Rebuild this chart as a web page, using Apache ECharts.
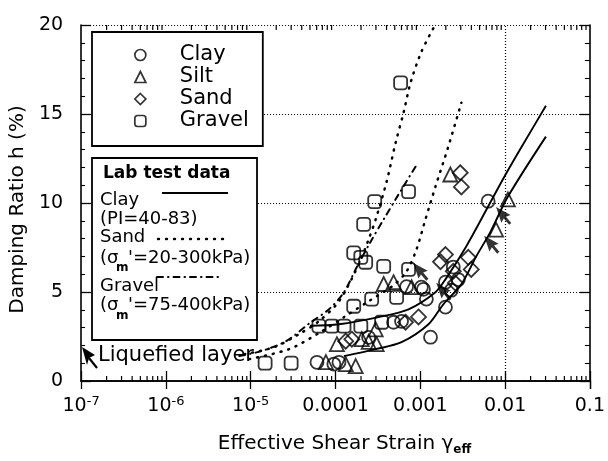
<!DOCTYPE html>
<html><head><meta charset="utf-8">
<script src="https://cdn.jsdelivr.net/npm/echarts@6/dist/echarts.min.js"></script>
<style>html,body{margin:0;padding:0;background:#fff}#c{width:608px;height:461px}</style>
</head><body><div id="c"></div>
<script>
const FONT = '"DejaVu Sans", "Liberation Sans", sans-serif';
// ---- tick labels ----
const xTickLabels = ['10^-7','10^-6','10^-5','0.0001','0.001','0.01','0.1'];
const xGridLines = [1e-4, 1e-3, 1e-2];
const yTicks = [0, 5, 10, 15, 20];

// ---- field data (strain, damping %) ----
const clayPts = [[6.31e-3,10.1],[2.45e-3,6.4],[2.81e-3,5.7],[1.98e-3,5.55],[2.32e-3,5.1],[1.18e-3,4.6],[1.09e-3,5.15],[1.98e-3,4.15],[1.32e-3,2.46],[4.84e-4,3.3],[6.01e-4,3.35],[2.46e-4,2.45],[9.57e-5,0.95],[6.05e-5,1.05],[1.10e-4,1.05],[6.89e-4,5.3],[1.03e-3,5.27]];
const siltPts = [[2.26e-3,11.6],[1.08e-2,10.2],[7.83e-3,8.5],[3.70e-4,5.45],[4.84e-4,5.55],[7.89e-4,5.27],[1.04e-4,2.07],[2.04e-4,2.35],[2.46e-4,2.2],[3.06e-4,2.07],[7.71e-5,1.06],[1.32e-4,0.95],[1.73e-4,0.84],[2.98e-4,2.9]];
const sandPts = [[2.96e-3,11.7],[3.05e-3,10.9],[1.98e-3,7.1],[1.73e-3,6.7],[3.68e-3,6.95],[3.99e-3,6.27],[2.45e-3,6.16],[2.59e-3,5.5],[9.53e-4,3.6],[6.70e-4,3.3],[1.32e-4,2.24],[1.56e-4,2.35]];
const gravelPts = [[5.86e-4,16.75],[7.27e-4,10.64],[2.90e-4,10.08],[2.15e-4,8.8],[1.64e-4,7.2],[1.99e-4,6.95],[2.27e-4,6.67],[3.70e-4,6.44],[7.27e-4,6.27],[1.64e-4,4.2],[2.67e-4,4.6],[5.26e-4,4.7],[6.38e-5,3.08],[9.08e-5,3.08],[1.26e-4,3.08],[1.99e-4,3.08],[3.50e-4,3.3],[1.48e-5,1.0],[3.00e-5,1.0]];
const liquefiedPts = [[9.48e-3,9.3],[6.86e-3,7.68],[1.87e-3,5.04],[1.0e-3,6.16]];

// ---- lab test curves ----
const clayUpper = [[5e-5,3.1],[1.1e-4,3.19],[3.23e-4,3.59],[7.27e-4,4.03],[1.51e-3,4.99],[1.98e-3,5.71],[3.48e-3,7.56],[6.31e-3,9.8],[9.4e-3,11.32],[1.5e-2,13.0],[3.03e-2,15.46]];
const clayLower = [[1.26e-4,1.40],[2.98e-4,1.79],[6.01e-4,2.18],[1.25e-3,3.19],[1.87e-3,4.31],[3.05e-3,5.43],[4.57e-3,7.0],[6.67e-3,8.35],[1.08e-2,10.36],[3.03e-2,13.73]];
const sandUpper = [[8.4e-6,1.51],[1.89e-5,1.90],[3.72e-5,2.63],[6.38e-5,3.36],[1.10e-4,4.48],[1.88e-4,6.55],[2.46e-4,7.96],[2.98e-4,9.08],[4.01e-4,11.2],[5.12e-4,13.39],[6.35e-4,15.07],[7.67e-4,16.75],[1.03e-3,18.49],[1.43e-3,19.83]];
const sandLower = [[9.64e-6,1.23],[2.84e-5,1.79],[6.38e-5,2.69],[1.26e-4,3.59],[2.46e-4,4.48],[4.84e-4,5.38],[6.89e-4,6.16],[9.02e-4,7.39],[1.15e-3,9.08],[1.51e-3,10.92],[2.14e-3,13.17],[3.05e-3,15.63]];
const gravelCurve = [[7.34e-6,1.40],[1.33e-5,1.68],[2.62e-5,2.24],[5.14e-5,3.31],[8.38e-5,4.03],[1.26e-4,4.99],[1.78e-4,6.39],[2.53e-4,7.73],[3.70e-4,9.08],[5.54e-4,10.48],[8.79e-4,12.04]];

// minor log ticks (2..9 x 10^k)
const minorX = [];
for (let e = -7; e <= -2; e++) for (let m = 2; m <= 9; m++) minorX.push(m * Math.pow(10, e));

function fmtX(v) {
  const e = Math.round(Math.log10(v));
  const lab = xTickLabels[e + 7];
  if (!lab) return '';
  if (lab.indexOf('^') >= 0) { const p = lab.split('^'); return '{b|' + p[0] + '}{s|' + p[1] + '}'; }
  return '{b|' + lab + '}';
}

const chart = echarts.init(document.getElementById('c'), null, {renderer: 'canvas'});
const black = '#000';
const dotGrid = {color: black, type: [1, 2], width: 1.2};

function curve(name, data, style) {
  return {name, type: 'line', data, showSymbol: false, smooth: 0.3, silent: true, z: 3,
    lineStyle: Object.assign({color: black}, style)};
}
function pts(name, data, symbol, size) {
  return {name, type: 'scatter', data, symbol, symbolSize: size, z: 4,
    itemStyle: {color: 'transparent', borderColor: black, borderWidth: 1.8}};
}

const arrowPath = 'path://M5,0 L10,14 L6.2,12.5 L6.2,20 L3.8,20 L3.8,12.5 L0,14 Z';

const gText = (text, x, y, font, extra) => Object.assign({type: 'text', x, y, z: 101,
  style: {text, font, fill: black, verticalAlign: 'middle', align: 'left'}}, extra || {});

chart.setOption({
  animation: false,
  backgroundColor: '#fff',
  textStyle: {fontFamily: FONT, color: black},
  grid: {left: 81, right: 16, top: 25, bottom: 79, containLabel: false},
  xAxis: [{
    type: 'log', logBase: 10, min: 1e-7, max: 0.1,
    name: 'Effective Shear Strain {g|γ}{sub|eff}',
    nameLocation: 'middle', nameGap: 51,
    nameTextStyle: {fontFamily: FONT, fontSize: 20, color: black, padding: [0, 0, 0, 18],
      rich: {g: {fontFamily: FONT, fontSize: 20, lineHeight: 24},
             sub: {fontFamily: FONT, fontSize: 12, fontWeight: 'bold', lineHeight: 12, verticalAlign: 'bottom', padding: [8, 0, 0, 0]}}},
    axisLine: {show: true, lineStyle: {color: black, width: 1.6}},
    axisTick: {show: true, inside: true, length: 10, lineStyle: {color: black, width: 1.3}},
    minorTick: {show: false},
    splitLine: {show: false},
    axisLabel: {margin: 14, formatter: fmtX,
      rich: {b: {fontFamily: FONT, fontSize: 19, color: black, lineHeight: 22},
             s: {fontFamily: FONT, fontSize: 13, color: black, lineHeight: 13, verticalAlign: 'top'}}}
  }, {
    type: 'log', logBase: 10, min: 1e-7, max: 0.1, position: 'top',
    axisLine: {show: true, lineStyle: {color: black, width: 1.6}},
    axisTick: {show: true, inside: true, length: 8, lineStyle: {color: black, width: 1.3}},
    axisLabel: {show: false}, splitLine: {show: false}
  }],
  yAxis: [{
    type: 'value', min: 0, max: 20, interval: 5,
    name: 'Damping Ratio h (%)', nameLocation: 'middle', nameGap: 47, nameRotate: 90,
    nameTextStyle: {fontFamily: FONT, fontSize: 20, color: black, padding: [0, 13, 0, 0]},
    axisLine: {show: true, lineStyle: {color: black, width: 1.6}},
    axisTick: {show: true, inside: true, length: 10, lineStyle: {color: black, width: 1.3}},
    minorTick: {show: true, splitNumber: 5, length: 4, lineStyle: {color: black, width: 1.1}},
    splitLine: {show: true, lineStyle: dotGrid},
    axisLabel: {margin: 18, fontFamily: FONT, fontSize: 19, color: black,
      formatter: v => (yTicks.indexOf(v) >= 0 ? String(v) : '')}
  }, {
    type: 'value', min: 0, max: 20, interval: 5, position: 'right',
    axisLine: {show: true, lineStyle: {color: black, width: 1.6}},
    axisTick: {show: true, inside: true, length: 10, lineStyle: {color: black, width: 1.3}},
    minorTick: {show: true, splitNumber: 5, length: 5, lineStyle: {color: black, width: 1.1}},
    splitLine: {show: false}, axisLabel: {show: false}
  }],
  legend: {
    data: ['Clay', 'Silt', 'Sand', 'Gravel'], orient: 'vertical', left: 92, top: 32,
    padding: [12, 14, 14, 42], itemGap: 0, itemWidth: 11, itemHeight: 11,
    borderColor: black, borderWidth: 1.8, backgroundColor: '#fff', selectedMode: false,
    itemStyle: {color: 'transparent', borderColor: black, borderWidth: 1.7},
    textStyle: {fontFamily: FONT, fontSize: 21, color: black, lineHeight: 22, padding: [0, 0, 0, 29]}
  },
  series: [
    Object.assign(curve('Clay lab upper', clayUpper, {width: 1.9}), {
      markLine: {silent: true, symbol: ['none', 'none'], label: {show: false},
        lineStyle: dotGrid, data: xGridLines.map(v => ({xAxis: v}))}
    }),
    curve('Clay lab lower', clayLower, {width: 1.9}),
    curve('Sand lab upper', sandUpper, {width: 2.5, type: [1, 7], cap: 'round'}),
    curve('Sand lab lower', sandLower, {width: 2.5, type: [1, 7], cap: 'round'}),
    curve('Gravel lab', gravelCurve, {width: 2, type: [6, 5, 0.5, 5], cap: 'round'}),
    pts('Clay', clayPts, 'circle', 13),
    pts('Silt', siltPts, 'triangle', 14),
    pts('Sand', sandPts, 'diamond', 15),
    pts('Gravel', gravelPts, 'roundRect', 13),
    {name: 'Liquefied layer', type: 'scatter', data: liquefiedPts, symbol: arrowPath,
      symbolSize: [12, 22], symbolRotate: 40, z: 5, itemStyle: {color: black}},
    {name: 'minor ticks', type: 'custom', silent: true, z: 6, clip: false,
      data: minorX.map(v => [v, 0]), encode: {x: 0, y: 1},
      renderItem: (params, api) => {
        const v = api.value(0);
        const b = api.coord([v, 0]);
        const t = api.coord([v, 20]);
        return {type: 'group', children: [
          {type: 'line', shape: {x1: b[0], y1: b[1], x2: b[0], y2: b[1] - 5}, style: {stroke: black, lineWidth: 1.2}},
          {type: 'line', shape: {x1: t[0], y1: t[1], x2: t[0], y2: t[1] + 5}, style: {stroke: black, lineWidth: 1.2}}
        ]};
      }}
  ],
  graphic: [
    {type: 'rect', z: 100, shape: {x: 92, y: 158, width: 165, height: 182},
      style: {fill: '#fff', stroke: black, lineWidth: 1.8}},
    gText('Lab test data', 103, 174, 'bold 17px ' + FONT),
    gText('Clay', 100, 200, '18px ' + FONT),
    {type: 'line', z: 101, shape: {x1: 162, y1: 193, x2: 228, y2: 193}, style: {stroke: black, lineWidth: 1.8}},
    gText('(PI=40-83)', 100, 219, '18px ' + FONT),
    gText('Sand', 100, 237, '18px ' + FONT),
    {type: 'line', z: 101, shape: {x1: 158, y1: 239, x2: 230, y2: 239},
      style: {stroke: black, lineWidth: 2.4, lineDash: [1, 7], lineCap: 'round'}},
    gText('(σ', 100, 258, '18px ' + FONT),
    gText('m', 116, 268, 'bold 12px ' + FONT),
    gText("'=20-300kPa)", 128, 258, '18px ' + FONT),
    gText('Gravel', 100, 286, '18px ' + FONT),
    {type: 'line', z: 101, shape: {x1: 157, y1: 277, x2: 223, y2: 277},
      style: {stroke: black, lineWidth: 2, lineDash: [6, 5, 0.5, 5], lineCap: 'round'}},
    gText('(σ', 100, 305, '18px ' + FONT),
    gText('m', 116, 316, 'bold 12px ' + FONT),
    gText("'=75-400kPa)", 128, 305, '18px ' + FONT),
    gText('Liquefied layer', 98, 356, '21px ' + FONT),
    {type: 'polygon', z: 101, shape: {points: [[82, 347], [95, 355], [89, 358], [87, 365]]}, style: {fill: black}},
    {type: 'line', z: 101, shape: {x1: 89, y1: 358, x2: 97, y2: 368}, style: {stroke: black, lineWidth: 2.2}}
  ]
});
</script>
</body></html>
